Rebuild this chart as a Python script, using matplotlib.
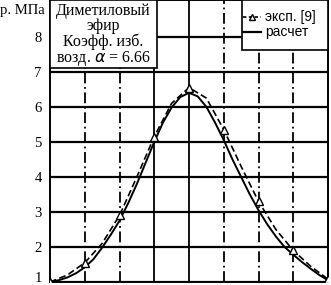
import matplotlib
matplotlib.use("Agg")
import matplotlib.pyplot as plt
from matplotlib.patches import Rectangle

# calculated curve (solid)
calc_x = [0, 0.25, 0.5, 0.75, 1, 1.25, 1.5, 1.75, 2, 2.25, 2.5, 2.75, 3, 3.25, 3.5, 3.75,
          4, 4.25, 4.5, 4.75, 5, 5.25, 5.5, 5.75, 6, 6.25, 6.5, 6.75, 7, 7.25, 7.5, 7.75, 8]
calc_p = [1.0, 1.05, 1.13, 1.25, 1.42, 1.65, 1.98, 2.35, 2.75, 3.25, 3.8, 4.4, 5.0, 5.55, 5.98, 6.28,
          6.4, 6.3, 6.0, 5.55, 5.05, 4.5, 4.0, 3.5, 3.05, 2.65, 2.3, 2.0, 1.78, 1.57, 1.38, 1.2, 1.05]

# experimental curve (dashed, triangles at integer points)
exp_x = [0, 0.5, 1, 1.5, 2, 2.5, 3, 3.5, 4, 4.5, 5, 5.5, 6, 6.5, 7, 7.5, 8]
exp_p = [1.0, 1.2, 1.55, 2.1, 2.9, 4.0, 5.15, 6.1, 6.55, 6.25, 5.35, 4.3, 3.3, 2.5, 1.9, 1.45, 1.08]

y_ticks = [1, 2, 3, 4, 5, 6, 7, 8]
x_grid = [1, 2, 3, 4, 5, 6, 7]
legend_labels = ["эксп. [9]", "расчет"]
info_text = "Диметиловый\nэфир\nКоэфф. изб.\nвозд. $\\alpha$ = 6.66"

serif = ["Liberation Serif", "DejaVu Serif"]
sans = ["Liberation Sans", "DejaVu Sans"]

fig = plt.figure(figsize=(3.31, 2.85), dpi=100)
ax = fig.add_axes([50/331, 3/285, 278/331, 282/285])
ax.set_xlim(0, 8)
ax.set_ylim(1, 9.05)

for y in y_ticks:
    ax.axhline(y, color="black", lw=1.6, zorder=1)
dd = (0, (6, 2, 1, 2))
styles = {1: dd, 2: dd, 3: "-", 4: "-", 5: dd, 6: dd, 7: dd}
for x in x_grid:
    ax.axvline(x, color="black", lw=1.3, ls=styles[x], zorder=1)

ax.plot(calc_x, calc_p, color="black", lw=1.4, zorder=3)
ax.plot(exp_x, exp_p, color="black", lw=1.2, ls=(0, (4, 2)), marker="^",
        markevery=2, markersize=6, markerfacecolor="white", markeredgecolor="black",
        markeredgewidth=1.0, zorder=4)

for s in ax.spines.values():
    s.set_linewidth(1.4)

ax.set_xticks([])
ax.set_yticks(y_ticks)
ax.set_yticklabels([str(v) for v in y_ticks], family=serif, fontsize=10.5)
ax.tick_params(axis="y", length=0, pad=6)
ax.get_yticklabels()[0].set_verticalalignment("baseline")

fig.text(0.0, 0.963, "р. МПа", family=serif, fontsize=10.5, ha="left", va="center")

# info box at top-left corner
ax.add_patch(Rectangle((0, 0.76), 0.385, 0.24, transform=ax.transAxes,
                       facecolor="white", edgecolor="black", lw=1.2, zorder=6))
ax.text(0.1925, 0.99, info_text, transform=ax.transAxes, family=serif,
        fontsize=11.5, ha="center", va="top", linespacing=0.95, zorder=7)

# legend box at top-right corner
ax.add_patch(Rectangle((0.69, 0.823), 0.31, 0.177, transform=ax.transAxes,
                       facecolor="white", edgecolor="black", lw=1.2, zorder=6))
ax.plot([0.695, 0.76], [0.94, 0.94], transform=ax.transAxes, color="black",
        lw=1.2, ls=(0, (2, 1.5)), zorder=7)
ax.plot([0.727], [0.94], transform=ax.transAxes, marker="^", markersize=5,
        markerfacecolor="white", markeredgecolor="black", zorder=8)
ax.plot([0.695, 0.76], [0.885, 0.885], transform=ax.transAxes, color="black",
        lw=1.6, zorder=7)
ax.text(0.775, 0.94, legend_labels[0], transform=ax.transAxes, family=sans,
        fontsize=10, ha="left", va="center", zorder=8)
ax.text(0.775, 0.885, legend_labels[1], transform=ax.transAxes, family=sans,
        fontsize=10, ha="left", va="center", zorder=8)

fig.savefig("out.png", dpi=100)
